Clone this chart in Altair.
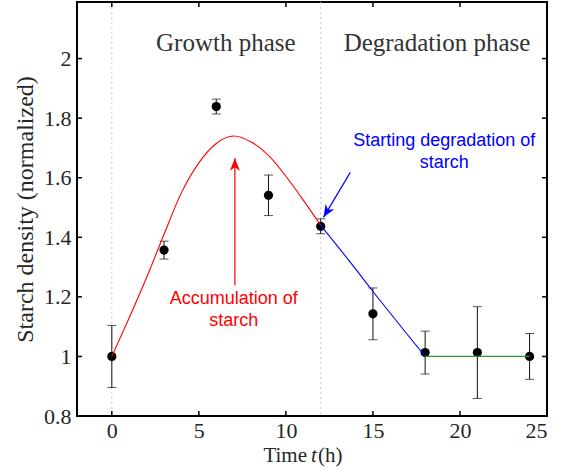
import altair as alt
import pandas as pd

# ---- data ----
t_obs = [0, 3, 6, 9, 12, 15, 18, 21, 24]
y_obs = [1.0, 1.357, 1.839, 1.541, 1.437, 1.143, 1.013, 1.013, 1.0]
err_obs = [0.104, 0.030, 0.025, 0.068, 0.025, 0.087, 0.072, 0.154, 0.077]

t_grow = [0, 1, 2, 3, 4, 5, 6, 7, 8, 9, 10, 11, 12]
y_grow = [1.0, 1.13, 1.265, 1.41, 1.55, 1.65, 1.715, 1.74, 1.72, 1.675, 1.605, 1.525, 1.44]
t_deg = [12, 13, 14, 15, 16, 17, 18]
y_deg = [1.44, 1.368, 1.294, 1.218, 1.145, 1.072, 1.0]
t_flat = [18, 24]
y_flat = [1.0, 1.0]

x_ticks = [0, 5, 10, 15, 20, 25]
y_ticks = [0.8, 1.0, 1.2, 1.4, 1.6, 1.8, 2.0]
phase_lines = [0, 12]

phase_labels = ["Growth phase", "Degradation phase"]
phase_x = [6.55, 18.68]
phase_y = [2.024, 2.024]

ann_red_text = "Accumulation of\nstarch"
ann_red_pos = (7.0, 1.1755)
ann_blue_text = "Starting degradation of\nstarch"
ann_blue_pos = (19.1, 1.705)

red_arrow_x = [7.07, 7.07]
red_arrow_y = [1.239, 1.665]
blue_arrow_x = [13.7, 12.16]
blue_arrow_y = [1.618, 1.467]

X0, X1 = -2, 25
Y0, Y1 = 0.8, 2.19

serif = "Liberation Serif"
sans = "Liberation Sans"
tcol = "#262626"

xs = alt.Scale(domain=[X0, X1], nice=False, zero=False)
ys = alt.Scale(domain=[Y0, Y1], nice=False, zero=False)

x_axis = alt.Axis(values=x_ticks, ticks=False, domain=False, grid=False,
                  labelFont=serif, labelFontSize=22, labelColor=tcol,
                  labelPadding=4, title=None)
y_axis = alt.Axis(values=y_ticks, ticks=False, domain=False, grid=False,
                  format="~g", labelFont=serif, labelFontSize=22,
                  labelColor=tcol, labelPadding=6,
                  title="Starch density (normalized)", titleFont=serif,
                  titleFontSize=24, titleFontWeight="normal",
                  titleColor=tcol, titlePadding=6)

obs = pd.DataFrame({"t": t_obs, "y": y_obs, "e": err_obs})
obs["lo"] = obs["y"] - obs["e"]
obs["hi"] = obs["y"] + obs["e"]


def X(f):
    return alt.X(f, type="quantitative", scale=xs, axis=x_axis)


def Y(f):
    return alt.Y(f, type="quantitative", scale=ys, axis=y_axis)


# phase separators (dotted)
vlines = alt.Chart(pd.DataFrame({"t": phase_lines})).mark_rule(
    color="#c8c8c8", strokeDash=[2, 3], strokeWidth=1
).encode(x=X("t"), y=alt.value(0), y2=alt.value(414))

# inward ticks
tick_len_y = 5 / 414 * (Y1 - Y0)
tick_len_x = 5 / 470 * (X1 - X0)
xt = pd.DataFrame({"x": x_ticks})
yt = pd.DataFrame({"y": y_ticks})
xt_bot = alt.Chart(xt).mark_rule(color="black", strokeWidth=1.5).transform_calculate(
    a=f"{Y0}", b=f"{Y0 + tick_len_y}").encode(x=X("x"), y=Y("a:Q"), y2="b:Q")
xt_top = alt.Chart(xt).mark_rule(color="black", strokeWidth=1.5).transform_calculate(
    a=f"{Y1}", b=f"{Y1 - tick_len_y}").encode(x=X("x"), y=Y("a:Q"), y2="b:Q")
yt_left = alt.Chart(yt).mark_rule(color="black", strokeWidth=1.5).transform_calculate(
    a=f"{X0}", b=f"{X0 + tick_len_x}").encode(y=Y("y"), x=X("a:Q"), x2="b:Q")
yt_right = alt.Chart(yt).mark_rule(color="black", strokeWidth=1.5).transform_calculate(
    a=f"{X1}", b=f"{X1 - tick_len_x}").encode(y=Y("y"), x=X("a:Q"), x2="b:Q")

# error bars
ebar = alt.Chart(obs).mark_rule(color="#111111", strokeWidth=1).encode(
    x=X("t"), y=Y("lo"), y2="hi")
cap_lo = alt.Chart(obs).mark_tick(color="#111111", orient="horizontal", size=9,
                                  thickness=1).encode(x=X("t"), y=Y("lo"))
cap_hi = alt.Chart(obs).mark_tick(color="#111111", orient="horizontal", size=9,
                                  thickness=1).encode(x=X("t"), y=Y("hi"))
pts = alt.Chart(obs).mark_point(filled=True, color="black", size=85, opacity=1).encode(
    x=X("t"), y=Y("y"))

grow = alt.Chart(pd.DataFrame({"t": t_grow, "y": y_grow})).mark_line(
    color="#ff0000", strokeWidth=1.1, interpolate="monotone").encode(x=X("t"), y=Y("y"))
deg = alt.Chart(pd.DataFrame({"t": t_deg, "y": y_deg})).mark_line(
    color="#0000ff", strokeWidth=1.1, interpolate="monotone").encode(x=X("t"), y=Y("y"))
flat = alt.Chart(pd.DataFrame({"t": t_flat, "y": y_flat})).mark_line(
    color="#2b9a2b", strokeWidth=1.3).encode(x=X("t"), y=Y("y"))

phase = alt.Chart(pd.DataFrame({"x": phase_x, "y": phase_y, "s": phase_labels})).mark_text(
    font=serif, fontSize=25, color="#333333", align="center", baseline="alphabetic"
).encode(x=X("x"), y=Y("y"), text="s:N")

ann = pd.DataFrame({
    "x": [ann_red_pos[0], ann_blue_pos[0]],
    "y": [ann_red_pos[1], ann_blue_pos[1]],
    "s": [ann_red_text, ann_blue_text],
    "c": ["red", "blue"],
})
ann_text = alt.Chart(ann).mark_text(
    font=sans, fontSize=18, align="center", baseline="alphabetic",
    lineBreak="\n", lineHeight=22
).encode(x=X("x"), y=Y("y"), text="s:N",
         color=alt.Color("c:N", scale=alt.Scale(domain=["red", "blue"],
                                                range=["#ff0000", "#0000ff"]), legend=None))

head = "M0,0 L0.5,1.25 L0,0.9 L-0.5,1.25 Z"
ra = pd.DataFrame({"x": red_arrow_x, "y": red_arrow_y, "o": [0, 1]})
ba = pd.DataFrame({"x": blue_arrow_x, "y": blue_arrow_y, "o": [0, 1]})
red_line = alt.Chart(ra).mark_line(color="#ff0000", strokeWidth=1.2).encode(
    x=X("x"), y=Y("y"), order="o:Q")
blue_line = alt.Chart(ba).mark_line(color="#0000ff", strokeWidth=1.2).encode(
    x=X("x"), y=Y("y"), order="o:Q")
red_head = alt.Chart(ra.iloc[[1]]).mark_point(
    shape=head, filled=True, color="#ff0000", size=400, opacity=1, angle=0
).encode(x=X("x"), y=Y("y"))
blue_head = alt.Chart(ba.iloc[[1]]).mark_point(
    shape=head, filled=True, color="#0000ff", size=400, opacity=1, angle=211
).encode(x=X("x"), y=Y("y"))

# x-axis title with italic t
xt_parts = pd.DataFrame({"s": ["Time", "t", "(h)"]})
xtitle_a = alt.Chart(xt_parts.iloc[[0]]).mark_text(
    font=serif, fontSize=21, color=tcol, align="right", baseline="alphabetic"
).encode(x=alt.value(230), y=alt.value(460), text="s:N")
xtitle_b = alt.Chart(xt_parts.iloc[[1]]).mark_text(
    font=serif, fontSize=21, fontStyle="italic", color=tcol, align="left", baseline="alphabetic"
).encode(x=alt.value(234), y=alt.value(460), text="s:N")
xtitle_c = alt.Chart(xt_parts.iloc[[2]]).mark_text(
    font=serif, fontSize=21, color=tcol, align="left", baseline="alphabetic"
).encode(x=alt.value(241), y=alt.value(460), text="s:N")

chart = alt.layer(
    vlines, xt_bot, xt_top, yt_left, yt_right,
    ebar, cap_lo, cap_hi, pts, grow, deg, flat,
    phase, ann_text, red_line, blue_line, red_head, blue_head,
    xtitle_a, xtitle_b, xtitle_c
).properties(
    width=470, height=414,
    padding={"left": 77, "top": 2, "right": 24, "bottom": 58},
    autosize=alt.AutoSizeParams(type="none"),
).configure(background="white").configure_view(stroke="black", strokeWidth=2)

chart.save("out.html", embed_options={"renderer": "svg", "actions": False})
